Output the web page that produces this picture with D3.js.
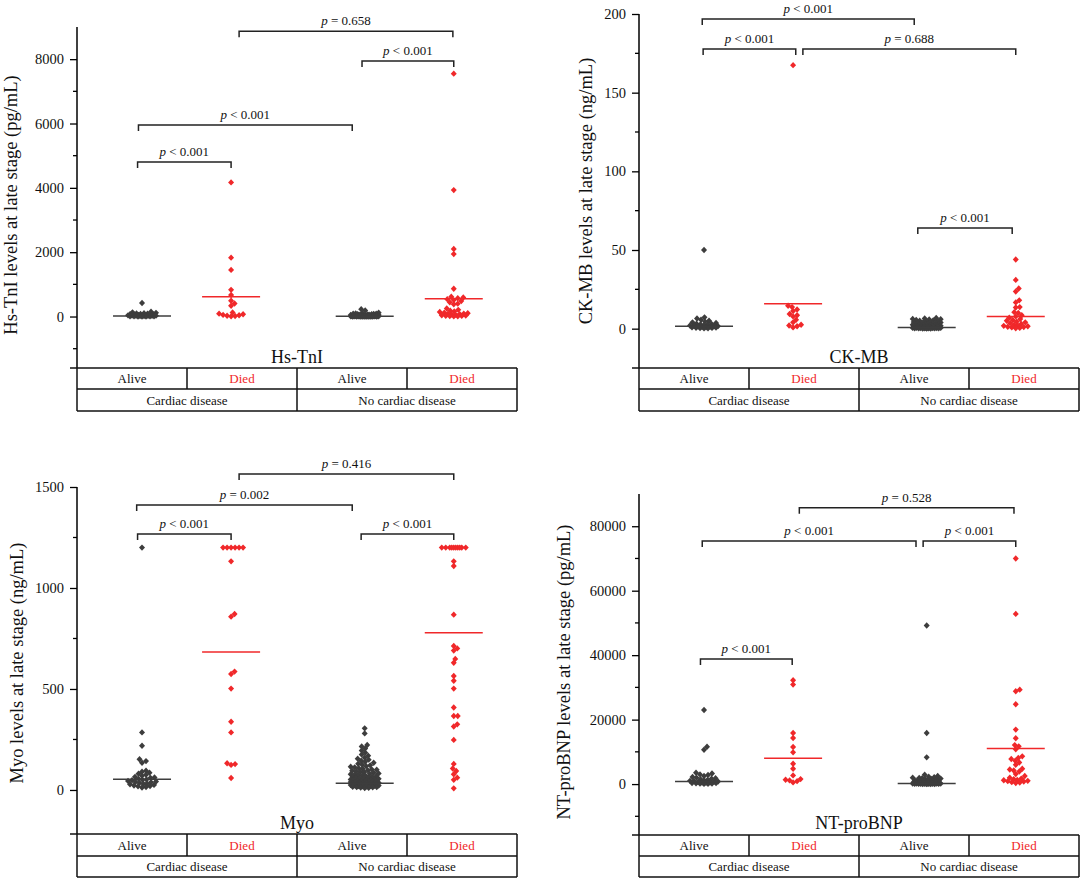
<!DOCTYPE html>
<html>
<head>
<meta charset="utf-8">
<script src="https://cdn.jsdelivr.net/npm/d3@7"></script>
<style>
  body { margin: 0; background: #fff; }
  svg text { font-family: "Liberation Serif", "Times New Roman", serif; }
</style>
</head>
<body>
<svg id="chart" width="1084" height="882"></svg>
<script>
// Categories shared by every panel
const categories = ['Alive', 'Died', 'Alive', 'Died'];
const groups = ['Cardiac disease', 'No cardiac disease'];
const catPos = [1, 2, 3.5, 4.5];

// Hs-TnI (pg/mL)
const hstniAliveCard = [420, 150, 130, 115, 100, 95, 88, 80, 74, 68, 60, 55, 50, 45, 40, 36, 32, 28, 25, 22, 19, 16, 13, 10, 8, 6, 4, 3, 2, 1];
const hstniDiedCard = [4170, 1830, 1450, 830, 667, 490, 406, 333, 125, 90, 73, 50, 42, 25, 15, 5];
const hstniAliveNo = [229, 188, 120, 105, 95, 90, 85, 80, 76, 72, 68, 64, 60, 57, 54, 51, 48, 45, 42, 40, 38, 36, 34, 32, 30, 28, 26, 24, 22, 21, 20, 19, 18, 17, 16, 15, 14, 13, 12, 11, 10, 9, 8, 8, 7, 7, 6, 6, 5, 5, 4, 4, 3, 3, 3, 2, 2, 2, 1, 1, 1, 1];
const hstniDiedNo = [7550, 3930, 2100, 1940, 865, 615, 590, 570, 540, 510, 480, 440, 400, 380, 250, 208, 180, 160, 140, 120, 100, 90, 80, 70, 60, 50, 40, 30, 25, 20, 15, 10, 5];
const hstniMedians = [20, 615, 5, 552];
const hstniTicks = [0, 2000, 4000, 6000, 8000];
const hstniMinor = [-1000, 1000, 3000, 5000, 7000];
const hstniBrackets = [
    { x1: 0.95, x2: 2.0, y: 4800, op: '<', p: '0.001' },
    { x1: 0.96, x2: 3.36, y: 5950, op: '<', p: '0.001' },
    { x1: 2.09, x2: 4.49, y: 8870, op: '=', p: '0.658' },
    { x1: 3.47, x2: 4.5, y: 7940, op: '<', p: '0.001' }
];

// CK-MB (ng/mL)
const ckmbAliveCard = [50, 7.2, 6.5, 5.7, 5.0, 4.5, 4.0, 3.6, 3.2, 3.0, 2.8, 2.5, 2.2, 2.0, 1.8, 1.6, 1.5, 1.3, 1.2, 1.0, 0.9, 0.8, 0.7, 0.6, 0.5, 0.4, 0.3, 0.2];
const ckmbDiedCard = [167.5, 14.6, 13.7, 12.2, 11.2, 9.3, 8.5, 7.8, 5.7, 4.0, 2.5, 2.0, 1.5, 0.8];
const ckmbAliveNo = [6.8, 6.5, 6.2, 6.0, 5.8, 5.5, 5.3, 5.0, 4.8, 4.6, 4.4, 4.2, 4.0, 3.9, 3.7, 3.5, 3.4, 3.2, 3.0, 2.9, 2.8, 2.6, 2.5, 2.4, 2.3, 2.2, 2.1, 2.0, 1.9, 1.8, 1.7, 1.6, 1.5, 1.5, 1.4, 1.3, 1.2, 1.2, 1.1, 1.0, 1.0, 0.9, 0.9, 0.8, 0.8, 0.7, 0.7, 0.6, 0.6, 0.5, 0.5, 0.5, 0.4, 0.4, 0.4, 0.3, 0.3, 0.3, 0.2, 0.2, 0.2, 0.1, 0.1, 0.1];
const ckmbDiedNo = [44, 31, 25.5, 23.6, 18, 16.7, 13.7, 13.5, 10.5, 10, 8.5, 7.8, 7, 6.1, 5.5, 5, 4.5, 4, 3.5, 3, 2.5, 2, 1.8, 1.5, 1.2, 1, 0.8, 0.5, 0.3];
const ckmbMedians = [1.5, 15.8, 0.8, 7.8];
const ckmbTicks = [0, 50, 100, 150, 200];
const ckmbMinor = [25, 75, 125, 175];
const ckmbBrackets = [
    { x1: 0.98, x2: 3.36, y: 196.8, op: '<', p: '0.001' },
    { x1: 0.99, x2: 2.03, y: 177.8, op: '<', p: '0.001' },
    { x1: 2.11, x2: 4.5, y: 177.8, op: '=', p: '0.688' },
    { x1: 3.4, x2: 4.46, y: 64, op: '<', p: '0.001' }
];

// Myo (ng/mL)
const myoAliveCard = [1200, 285, 219, 152, 143, 135, 95, 90, 85, 80, 75, 70, 65, 62, 60, 55, 52, 50, 48, 45, 42, 40, 38, 35, 32, 30, 28, 25, 22, 20, 18, 15, 12];
const myoDiedCard = [1200, 1200, 1200, 1200, 1200, 1200, 1132, 871, 858, 586, 574, 502, 338, 285, 132, 128, 124, 59];
const myoAliveNo = [305, 280, 223, 215, 205, 195, 185, 175, 170, 160, 155, 150, 145, 140, 135, 130, 125, 122, 118, 115, 112, 108, 105, 102, 100, 98, 95, 92, 90, 88, 85, 82, 80, 78, 76, 74, 72, 70, 68, 66, 64, 62, 60, 58, 56, 55, 54, 52, 50, 49, 48, 46, 45, 44, 42, 41, 40, 39, 38, 37, 36, 35, 34, 33, 32, 31, 30, 29, 28, 27, 26, 25, 24, 23, 22, 21, 20, 19, 18, 17, 16, 15, 14, 13, 12, 11, 10];
const myoDiedNo = [1200, 1200, 1200, 1200, 1200, 1200, 1200, 1200, 1200, 1200, 1132, 1109, 868, 713, 701, 690, 649, 630, 564, 541, 502, 408, 366, 366, 325, 314, 248, 129, 106, 94, 78, 61, 50, 8];
const myoMedians = [53, 683, 33, 779];
const myoTicks = [0, 500, 1000, 1500];
const myoMinor = [250, 750, 1250];
const myoBrackets = [
    { x1: 0.95, x2: 2.0, y: 1267, op: '<', p: '0.001' },
    { x1: 0.94, x2: 3.36, y: 1411, op: '=', p: '0.002' },
    { x1: 2.09, x2: 4.5, y: 1564, op: '=', p: '0.416' },
    { x1: 3.46, x2: 4.5, y: 1267, op: '<', p: '0.001' }
];

// NT-proBNP (pg/mL)
const ntAliveCard = [23000, 11600, 10670, 3500, 3300, 3000, 2800, 2500, 2200, 2000, 1800, 1660, 1500, 1300, 1200, 1000, 900, 800, 700, 600, 500, 450, 400, 350, 300, 250, 200, 150, 100, 50];
const ntDiedCard = [32200, 30870, 15850, 14300, 11500, 9840, 6320, 4770, 2690, 1550, 1350, 1140, 900, 520];
const ntAliveNo = [49200, 15850, 8290, 2900, 2500, 2300, 2100, 2000, 1900, 1800, 1700, 1600, 1500, 1400, 1300, 1200, 1100, 1000, 950, 900, 850, 800, 750, 700, 650, 600, 550, 500, 480, 450, 420, 400, 380, 350, 320, 300, 280, 250, 230, 200, 180, 160, 150, 130, 120, 100, 90, 80, 70, 60, 50, 40, 30, 20, 10];
const ntDiedNo = [70000, 52800, 29300, 28800, 24760, 16900, 14200, 12100, 11700, 10800, 8600, 8100, 7800, 7250, 6700, 6000, 4770, 4500, 4200, 3900, 3100, 2500, 2000, 1700, 1500, 1300, 1200, 1000, 900, 800, 600, 500, 300];
const ntMedians = [830, 7980, 200, 11000];
const ntTicks = [0, 20000, 40000, 60000, 80000];
const ntMinor = [-10000, 10000, 30000, 50000, 70000];
const ntBrackets = [
    { x1: 0.96, x2: 1.99, y: 38800, op: '<', p: '0.001' },
    { x1: 0.98, x2: 3.38, y: 75400, op: '<', p: '0.001' },
    { x1: 2.07, x2: 4.48, y: 85700, op: '=', p: '0.528' },
    { x1: 3.46, x2: 4.5, y: 75400, op: '<', p: '0.001' }
];

const COLORS = ['#3d3d3d', '#f0282a'];
const W = 440;

const panels = [
    { name: 'Hs-TnI', yTitle: 'Hs-TnI levels at late stage (pg/mL)',
      series: [hstniAliveCard, hstniDiedCard, hstniAliveNo, hstniDiedNo], medians: hstniMedians,
      ticks: hstniTicks, minor: hstniMinor, brackets: hstniBrackets, domain: [-1600, 9000],
      x0: 77, top: 27, base: 368, rows: [389, 411], titleX: 17, titleY: 205, nameY: 363 },
    { name: 'CK-MB', yTitle: 'CK-MB levels at late stage (ng/mL)',
      series: [ckmbAliveCard, ckmbDiedCard, ckmbAliveNo, ckmbDiedNo], medians: ckmbMedians,
      ticks: ckmbTicks, minor: ckmbMinor, brackets: ckmbBrackets, domain: [-25, 200],
      x0: 639, top: 14, base: 368, rows: [389, 411], titleX: 592, titleY: 191, nameY: 363 },
    { name: 'Myo', yTitle: 'Myo levels at late stage (ng/mL)',
      series: [myoAliveCard, myoDiedCard, myoAliveNo, myoDiedNo], medians: myoMedians,
      ticks: myoTicks, minor: myoMinor, brackets: myoBrackets, domain: [-218, 1500],
      x0: 77, top: 487, base: 834, rows: [856, 877], titleX: 23, titleY: 663, nameY: 829 },
    { name: 'NT-proBNP', yTitle: 'NT-proBNP levels at late stage (pg/mL)',
      series: [ntAliveCard, ntDiedCard, ntAliveNo, ntDiedNo], medians: ntMedians,
      ticks: ntTicks, minor: ntMinor, brackets: ntBrackets, domain: [-15800, 90000],
      x0: 639, top: 494, base: 835, rows: [856, 877], titleX: 570, titleY: 672, nameY: 829 }
];

// Simple deterministic beeswarm: nearest free offset, else least crowded spot
function swarm(values, y, minDist, maxOff) {
    const order = values.map((v, i) => i).sort((a, b) => values[a] - values[b]);
    const cands = [0];
    for (let s = 0.5; s <= maxOff; s += 0.5) cands.push(s, -s);
    const placed = [];
    const out = new Array(values.length);
    order.forEach(i => {
        const py = y(values[i]);
        let pick = null, best = -1, bestOff = 0;
        for (const c of cands) {
            let m = Infinity;
            for (const p of placed) {
                const d = Math.hypot(p.dx - c, p.py - py);
                if (d < m) m = d;
            }
            if (m >= minDist) { pick = c; break; }
            if (m > best) { best = m; bestOff = c; }
        }
        if (pick === null) pick = bestOff;
        placed.push({ dx: pick, py: py });
        out[i] = { v: values[i], dx: pick, py: py };
    });
    return out;
}

const svg = d3.select('#chart');
const diamond = 'M0,-3.2L3,0L0,3.2L-3,0Z';
const SERIF = '"Liberation Serif", "Times New Roman", serif';

panels.forEach(cfg => {
    const g = svg.append('g');
    const x = d3.scaleLinear().domain([0.27, 5.21]).range([cfg.x0, cfg.x0 + W]);
    const y = d3.scaleLinear().domain(cfg.domain).range([cfg.base, cfg.top]);

    // y axis with outward ticks
    const axis = g.append('g').attr('transform', `translate(${cfg.x0},0)`);
    axis.call(d3.axisLeft(y).tickValues(cfg.ticks).tickSize(7).tickPadding(6).tickFormat(d3.format('d')));
    axis.attr('font-family', SERIF);
    axis.select('.domain').remove();
    axis.selectAll('.tick line').attr('stroke', '#000').attr('stroke-width', 1.3);
    axis.selectAll('.tick text').attr('font-size', 14.5).attr('fill', '#111');
    axis.append('g').selectAll('line').data(cfg.minor).enter().append('line')
        .attr('x1', -4).attr('x2', 0).attr('y1', d => y(d)).attr('y2', d => y(d))
        .attr('stroke', '#000').attr('stroke-width', 1.3);
    g.append('line').attr('x1', cfg.x0).attr('x2', cfg.x0).attr('y1', cfg.top).attr('y2', cfg.base)
        .attr('stroke', '#000').attr('stroke-width', 1.5);

    // axis title
    g.append('text')
        .attr('transform', `translate(${cfg.titleX},${cfg.titleY}) rotate(-90)`)
        .attr('text-anchor', 'middle').attr('font-size', 18.5).attr('fill', '#111')
        .text(cfg.yTitle);

    // points
    cfg.series.forEach((vals, k) => {
        const color = COLORS[k % 2];
        const pts = swarm(vals, y, 4, 14);
        g.append('g').selectAll('path').data(pts).enter().append('path')
            .attr('d', diamond)
            .attr('transform', d => `translate(${x(catPos[k]) + d.dx},${d.py})`)
            .attr('fill', color);
        g.append('line')
            .attr('x1', x(catPos[k]) - 29).attr('x2', x(catPos[k]) + 29)
            .attr('y1', y(cfg.medians[k])).attr('y2', y(cfg.medians[k]))
            .attr('stroke', color).attr('stroke-width', 1.5);
    });

    // significance brackets
    const br = g.append('g').selectAll('g').data(cfg.brackets).enter().append('g');
    br.append('path')
        .attr('d', d => `M${x(d.x1)},${y(d.y) + 6}V${y(d.y)}H${x(d.x2)}V${y(d.y) + 6}`)
        .attr('fill', 'none').attr('stroke', '#222').attr('stroke-width', 1.5);
    const lbl = br.append('text')
        .attr('x', d => (x(d.x1) + x(d.x2)) / 2).attr('y', d => y(d.y) - 6)
        .attr('text-anchor', 'middle').attr('font-size', 13).attr('fill', '#111');
    lbl.append('tspan').attr('font-style', 'italic').text('p');
    lbl.append('tspan').text(d => ` ${d.op} ${d.p}`);

    // panel name
    g.append('text').attr('x', cfg.x0 + W / 2).attr('y', cfg.nameY)
        .attr('text-anchor', 'middle').attr('font-size', 18).attr('fill', '#111').text(cfg.name);

    // category table
    const t = g.append('g').attr('stroke', '#111').attr('stroke-width', 1.5);
    t.append('line').attr('x1', cfg.x0 - 7).attr('x2', cfg.x0 + W).attr('y1', cfg.base).attr('y2', cfg.base);
    t.append('line').attr('x1', cfg.x0).attr('x2', cfg.x0 + W).attr('y1', cfg.rows[0]).attr('y2', cfg.rows[0]);
    t.append('line').attr('x1', cfg.x0).attr('x2', cfg.x0 + W).attr('y1', cfg.rows[1]).attr('y2', cfg.rows[1]);
    [0, 1, 2, 3, 4].forEach(i => {
        const bottom = (i % 2 === 0) ? cfg.rows[1] : cfg.rows[0];
        t.append('line').attr('x1', cfg.x0 + i * W / 4).attr('x2', cfg.x0 + i * W / 4)
            .attr('y1', cfg.base).attr('y2', bottom);
    });
    g.append('g').selectAll('text').data(categories).enter().append('text')
        .attr('x', (d, i) => cfg.x0 + (i + 0.5) * W / 4).attr('y', cfg.rows[0] - 6)
        .attr('text-anchor', 'middle').attr('font-size', 13)
        .attr('fill', (d, i) => i % 2 ? '#f0282a' : '#111').text(d => d);
    g.append('g').selectAll('text').data(groups).enter().append('text')
        .attr('x', (d, i) => cfg.x0 + (i + 0.5) * W / 2).attr('y', cfg.rows[1] - 6)
        .attr('text-anchor', 'middle').attr('font-size', 13).attr('fill', '#111').text(d => d);
});
</script>
</body>
</html>
